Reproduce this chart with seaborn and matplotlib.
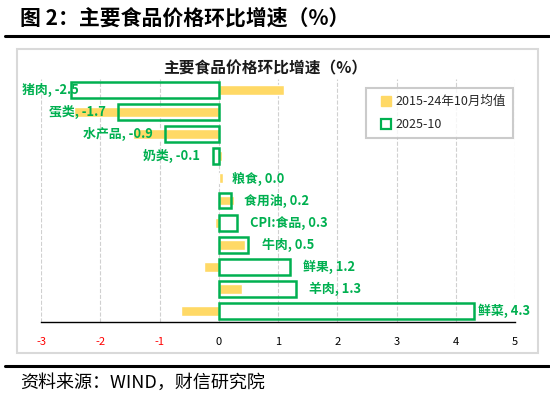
import matplotlib
matplotlib.use("Agg")
import matplotlib.pyplot as plt
import seaborn as sns
import pandas as pd
from matplotlib.patches import Rectangle
from matplotlib.lines import Line2D

# ---- data ----
categories = ['猪肉', '蛋类', '水产品', '奶类', '粮食', '食用油', 'CPI:食品', '牛肉', '鲜果', '羊肉', '鲜菜']
current_2025_10 = [-2.5, -1.7, -0.9, -0.1, 0.0, 0.2, 0.3, 0.5, 1.2, 1.3, 4.3]
avg_2015_24_oct = [1.1, -2.45, -1.45, 0.05, 0.08, 0.25, -0.07, 0.45, -0.25, 0.4, -0.63]
xticks = [-3, -2, -1, 0, 1, 2, 3, 4, 5]
series_names = ['2015-24年10月均值', '2025-10']

YELLOW = '#FFD966'
GREEN = '#00B050'

sns.set_style('white')
plt.rcParams['font.family'] = ['Noto Sans CJK SC', 'DejaVu Sans']
plt.rcParams['axes.unicode_minus'] = False

W, H = 550, 394
fig = plt.figure(figsize=(W / 100, H / 100), dpi=100)

def fx(px):
    return px / W

def fy(py):
    return 1 - py / H

ax = fig.add_axes([fx(41), fy(322), fx(515) - fx(41), fy(79) - fy(322)])

df = pd.DataFrame({'cat': categories, 'avg': avg_2015_24_oct, 'cur': current_2025_10})

sns.barplot(data=df, x='avg', y='cat', order=categories, color=YELLOW, width=0.45,
            orient='h', ax=ax, saturation=1, zorder=2)
n_yellow = len(ax.patches)
sns.barplot(data=df, x='cur', y='cat', order=categories, color=GREEN, width=0.72,
            orient='h', ax=ax, fill=False, linewidth=1.8, saturation=1, zorder=3)
for p in ax.patches[n_yellow:]:
    p.set_edgecolor(GREEN)
    p.set_facecolor('none')
    if abs(p.get_width()) < 1e-9:
        p.set_visible(False)

ax.set_xlim(-3, 5)
ax.set_ylim(len(categories) - 0.5, -0.5)
ax.set_xticks(xticks)
ax.set_xticklabels([str(t) for t in xticks], fontsize=8)
for lab, t in zip(ax.get_xticklabels(), xticks):
    lab.set_color('red' if t < 0 else 'black')
ax.set_yticks([])
ax.set_xlabel('')
ax.set_ylabel('')
for s in ['left', 'top', 'right']:
    ax.spines[s].set_visible(False)
ax.spines['bottom'].set_color('black')
ax.spines['bottom'].set_linewidth(1.0)
ax.tick_params(axis='x', direction='out', length=5, width=1, color='black', pad=6)
ax.grid(axis='x', linestyle='--', color='#D0D0D0', linewidth=0.8, zorder=0)
ax.set_axisbelow(True)

# data labels
texts = []
for i, (c, v) in enumerate(zip(categories, current_2025_10)):
    if v < 0:
        t = ax.annotate(f'{c}, {v:.1f}', xy=(v, i), xytext=(-9, 0), textcoords='offset points',
                        ha='right', va='center', fontsize=9.3, fontweight='bold', color=GREEN, zorder=5)
    else:
        t = ax.annotate(f'{c}, {v:.1f}', xy=(v, i), xytext=(9.5, 0), textcoords='offset points',
                        ha='left', va='center', fontsize=9.3, fontweight='bold', color=GREEN, zorder=5)
    texts.append(t)

fig.canvas.draw()
r = fig.canvas.get_renderer()
for t in texts:
    bb = t.get_window_extent(r)
    ox, oy = t.xyann
    if bb.x0 < 22:
        t.xyann = (ox + (22 - bb.x0) * 72 / 100, oy)
    elif bb.x1 > 530:
        t.xyann = (ox - (bb.x1 - 530) * 72 / 100, oy)

# legend
handles = [Line2D([], [], linestyle='none', marker='s', markersize=6.5,
                  markerfacecolor=YELLOW, markeredgecolor=YELLOW),
           Line2D([], [], linestyle='none', marker='s', markersize=6.5,
                  markerfacecolor='white', markeredgecolor=GREEN, markeredgewidth=1.6)]
leg = fig.legend(handles, series_names, loc='upper right', bbox_to_anchor=(fx(513), fy(88)),
                 fontsize=9, frameon=True, fancybox=False, edgecolor='#BFBFBF',
                 handlelength=2.0, handletextpad=-0.2,
                 labelspacing=0.8, borderpad=0.55, borderaxespad=0)
leg.get_frame().set_linewidth(1.5)

# chart box
fig.patches.append(Rectangle((fx(17), fy(353)), fx(538) - fx(17), fy(49) - fy(353),
                             transform=fig.transFigure, fill=False, edgecolor='#D9D9D9',
                             linewidth=1.5, zorder=0))

# chart title
fig.text(fx(265), fy(68), '主要食品价格环比增速（%）', ha='center', va='center',
         fontsize=11.3, fontweight='bold', color='#1a1a1a')

# figure header / footer
fig.text(fx(20), fy(18), '图 2：主要食品价格环比增速（%）', ha='left', va='center',
         fontsize=15, fontweight='bold', color='black')
fig.add_artist(Line2D([fx(5), fx(549)], [fy(36), fy(36)], transform=fig.transFigure,
                      color='black', linewidth=2.2))
fig.add_artist(Line2D([fx(5), fx(549)], [fy(366), fy(366)], transform=fig.transFigure,
                      color='black', linewidth=2.2))
fig.text(fx(20), fy(383), '资料来源：WIND，财信研究院', ha='left', va='center',
         fontsize=13, style='italic', color='black')

fig.savefig('out.png', dpi=100)
